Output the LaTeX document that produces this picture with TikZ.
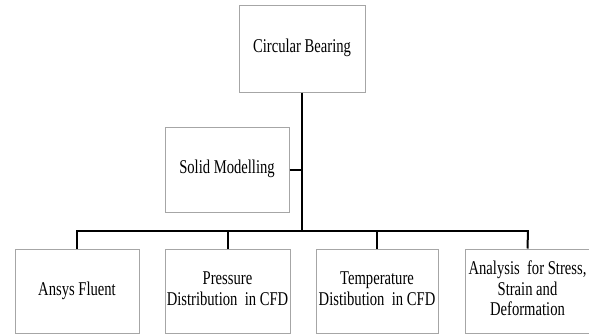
\documentclass[tikz,border=0pt]{standalone}
\usepackage{fontspec}
\setmainfont{Liberation Serif}
\usepackage{graphicx}
\newcommand\bxtxt[1]{\scalebox{0.75}[1]{\begin{tabular}{@{}c@{}}#1\end{tabular}}}
\begin{document}
\begin{tikzpicture}[x=1pt,y=-1pt,
  boxnode/.style={draw=black!35, line width=1pt, rectangle, inner sep=0pt,
    font=\fontsize{19.5}{20.5}\selectfont, text=black},
  link/.style={draw=black, line width=2pt}]
\useasboundingbox (0,0) rectangle (589,335);
\node[boxnode, minimum width=126pt, minimum height=87pt] (cb) at (302,48.5) {\bxtxt{Circular Bearing}};
\node[boxnode, minimum width=124pt, minimum height=85pt] (sm) at (227,169.5) {\bxtxt{Solid Modelling}};
\node[boxnode, minimum width=124pt, minimum height=84pt] (af) at (77,291) {\bxtxt{Ansys Fluent}};
\node[boxnode, minimum width=125pt, minimum height=84pt] (pd) at (227.5,291) {\bxtxt{Pressure\\Distribution\ \ in CFD}};
\node[boxnode, minimum width=122pt, minimum height=84pt] (td) at (377,291) {\bxtxt{Temperature\\Distibution\ \ in CFD}};
\node[boxnode, minimum width=125pt, minimum height=84pt] (an) at (527.5,291) {\bxtxt{Analysis\ \ for Stress,\\Strain and\\Deformation}};
\coordinate (tl) at (77,231);
\coordinate (tr) at (528,231);
\coordinate (tc) at (302,231);
\draw[link] (cb.south) -- (tc);
\draw[link] (sm.east) -- (sm.east -| tc);
\draw[link, line cap=rect] (tl) -- (tr);
\draw[link] (tl) -- (af.north);
\draw[link] (pd.north |- tc) -- (pd.north);
\draw[link] (td.north |- tc) -- (td.north);
\draw[link] (tr) -- (an.north);
\end{tikzpicture}
\end{document}
